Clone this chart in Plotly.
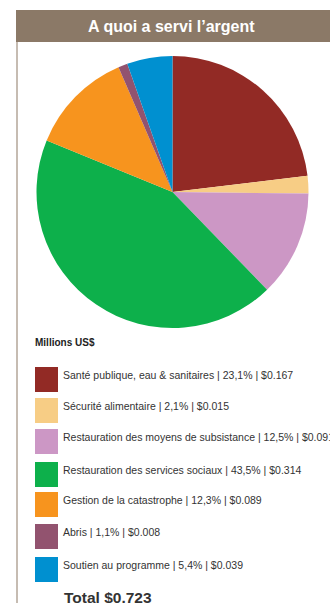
import plotly.graph_objects as go

# Allocation data (millions US$)
categories = [
    "Santé publique, eau & sanitaires",
    "Sécurité alimentaire",
    "Restauration des moyens de subsistance",
    "Restauration des services sociaux",
    "Gestion de la catastrophe",
    "Abris",
    "Soutien au programme",
]
percent_labels = ["23,1%", "2,1%", "12,5%", "43,5%", "12,3%", "1,1%", "5,4%"]
amounts = [0.167, 0.015, 0.091, 0.314, 0.089, 0.008, 0.039]
colors = ["#922a25", "#f7cd85", "#cc97c5", "#0db04b", "#f7941e", "#92536f", "#0090d0"]
title_text = "A quoi a servi l’argent"
unit_text = "Millions US$"
total_text = "Total $0.723"

W, H = 330, 603


def px_x(x):
    return x / W


def px_y(y):
    return 1 - y / H


# Pie geometry in pixels
cx, cy, r = 172.5, 192, 136

fig = go.Figure(
    go.Pie(
        labels=categories,
        values=amounts,
        sort=False,
        direction="clockwise",
        rotation=0,
        textinfo="none",
        hoverinfo="label+value+percent",
        marker=dict(colors=colors, line=dict(width=0)),
        domain=dict(x=[px_x(cx - r), px_x(cx + r)], y=[px_y(cy + r), px_y(cy - r)]),
        showlegend=False,
    )
)

shapes = [
    # header band
    dict(type="rect", xref="paper", yref="paper", x0=px_x(16), x1=px_x(W + 5),
         y0=px_y(42), y1=px_y(10), fillcolor="#8b7967", line=dict(width=0), layer="below"),
    # left border rule
    dict(type="rect", xref="paper", yref="paper", x0=px_x(16), x1=px_x(18),
         y0=px_y(H + 5), y1=px_y(42), fillcolor="#c6bcb2", line=dict(width=0), layer="below"),
]

annotations = [
    dict(text=f"<b>{title_text}</b>", x=px_x(171), y=px_y(26), xref="paper", yref="paper",
         showarrow=False, xanchor="center", yanchor="middle",
         font=dict(family="Liberation Sans, Arial", size=16, color="white")),
    dict(text=f"<b>{unit_text}</b>", x=px_x(33), y=px_y(342), xref="paper", yref="paper",
         showarrow=False, xanchor="left", yanchor="middle",
         font=dict(family="Liberation Sans, Arial", size=10, color="#222222")),
    dict(text=f"<b>{total_text}</b>", x=px_x(62), y=px_y(597), xref="paper", yref="paper",
         showarrow=False, xanchor="left", yanchor="middle",
         font=dict(family="Liberation Sans, Arial", size=15.5, color="#333333")),
]

# Legend rows: swatch + label
row_tops = [367, 398, 429, 462, 492, 524, 557]
for i, (cat, pct, amt, col) in enumerate(zip(categories, percent_labels, amounts, colors)):
    top = row_tops[i]
    shapes.append(dict(type="rect", xref="paper", yref="paper",
                       x0=px_x(35), x1=px_x(58), y0=px_y(top + 25), y1=px_y(top),
                       fillcolor=col, line=dict(width=0)))
    annotations.append(dict(text=f"{cat} | {pct} | ${amt:.3f}", x=px_x(61), y=px_y(top + 8),
                            xref="paper", yref="paper", showarrow=False,
                            xanchor="left", yanchor="middle",
                            font=dict(family="Liberation Sans, Arial", size=10.5, color="#333333")))

fig.update_layout(
    width=W, height=H,
    margin=dict(l=0, r=0, t=0, b=0),
    paper_bgcolor="white",
    plot_bgcolor="white",
    shapes=shapes,
    annotations=annotations,
)

fig.write_html("out.html", config={"displayModeBar": False})
